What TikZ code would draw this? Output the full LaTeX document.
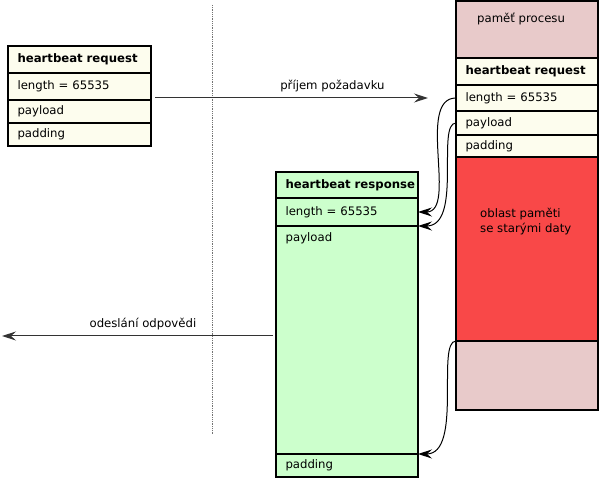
\documentclass[tikz,border=0pt]{standalone}
\usepackage{fontspec}
\setmainfont{DejaVu Sans}
\usetikzlibrary{positioning,arrows.meta}

\definecolor{reqfill}{HTML}{FDFDEE}
\definecolor{memfill}{HTML}{E8CACA}
\definecolor{oldfill}{HTML}{F94848}
\definecolor{respfill}{HTML}{CCFFCC}

\newcommand\rowfont{\fontsize{11.7}{15}\selectfont}

\tikzset{
  row/.style={draw, line width=1.1pt, rectangle, outer sep=0pt,
    anchor=north west, minimum width=142pt, text width=123pt,
    inner xsep=9.5pt, inner ysep=0pt, align=left,
    text height=9pt, text depth=2.5pt, font=\rowfont},
  rowtitle/.style={font=\rowfont\bfseries},
  reqrow/.style={row, fill=reqfill, minimum width=143pt, text width=124pt},
  procrow/.style={row, fill=reqfill},
  resprow/.style={row, fill=respfill},
  flow/.style={line width=1pt, draw=black!80, -{Stealth[length=14pt,width=9pt,inset=5pt]}},
  link/.style={line width=1pt, -{Stealth[length=14pt,width=9pt,inset=5pt]}},
  divider/.style={densely dotted, line width=0.8pt, black!55},
  note/.style={anchor=north west, inner sep=0pt, align=left, font=\rowfont},
}

\begin{document}
\begin{tikzpicture}[x=1pt,y=-1pt]
  \useasboundingbox (0,0) rectangle (600,478);

  % client / server split
  \draw[divider] (212,5) -- (212,435);

  % request as sent
  \node[reqrow, rowtitle, minimum height=27pt] (reqtitle) at (8,46) {heartbeat request};
  \node[reqrow, minimum height=27pt, below=0pt of reqtitle] (reqlen) {length = 65535};
  \node[reqrow, minimum height=23pt, below=0pt of reqlen] (reqpay) {payload};
  \node[reqrow, minimum height=23pt, below=0pt of reqpay] (reqpad) {padding};

  % process memory
  \node[row, fill=memfill, minimum height=57pt] (proctop) at (456,1) {};
  \node[note] (proclabel) at ([xshift=21pt,yshift=-11.5pt]proctop.north west) {paměť procesu};
  \node[procrow, rowtitle, minimum height=27pt, below=0pt of proctop] (proctitle) {heartbeat request};
  \node[procrow, minimum height=26pt, below=0pt of proctitle] (proclen) {length = 65535};
  \node[procrow, minimum height=24pt, below=0pt of proclen] (procpay) {payload};
  \node[procrow, minimum height=22pt, below=0pt of procpay] (procpad) {padding};
  \node[row, fill=oldfill, minimum height=184pt, below=0pt of procpad] (oldmem) {};
  \node[note] (oldlabel) at ([xshift=24pt,yshift=-51pt]oldmem.north west) {oblast paměti\\se starými daty};
  \node[row, fill=memfill, minimum height=69pt, below=0pt of oldmem] (procbot) {};

  % response
  \node[resprow, rowtitle, minimum height=26pt, inner xsep=7pt] (resptitle) at (276,172) {\mbox{heartbeat response}};
  \node[resprow, minimum height=28pt, below=0pt of resptitle] (resplen) {length = 65535};
  \node[resprow, minimum height=228pt, below=0pt of resplen] (resppay) {};
  \node[note, text height=9pt, text depth=2.5pt] (payloadlabel) at ([xshift=9.5pt,yshift=-6pt]resppay.north west) {payload};
  \node[resprow, minimum height=23pt, below=0pt of resppay] (resppad) {padding};

  % receive and send
  \path (proclen.west) ++(-28,0) coordinate (recvend);
  \path (reqlen.east |- recvend) ++(4,0) coordinate (recvstart);
  \draw[flow] (recvstart) -- (recvend) node[pos=0.65, above=2pt, font=\rowfont] (recvlabel) {příjem požadavku};

  \path (resppay.west) ++(-3,-4) coordinate (sendstart);
  \coordinate (sendend) at (2,336);
  \draw[flow] (sendstart) -- (sendend) node[pos=0.48, above=2pt, font=\rowfont] (sendlabel) {odeslání odpovědi};

  % copying from memory
  \draw[link] (proclen.west) .. controls +(-40,0) and +(40,0) .. (resplen.east);
  \draw[link] (procpay.west) .. controls +(-20,0) and +(45,0) .. (resppay.north east);
  \draw[link] (procbot.north west) .. controls +(-20,0) and +(45,0) .. (resppad.north east);

\end{tikzpicture}
\end{document}
